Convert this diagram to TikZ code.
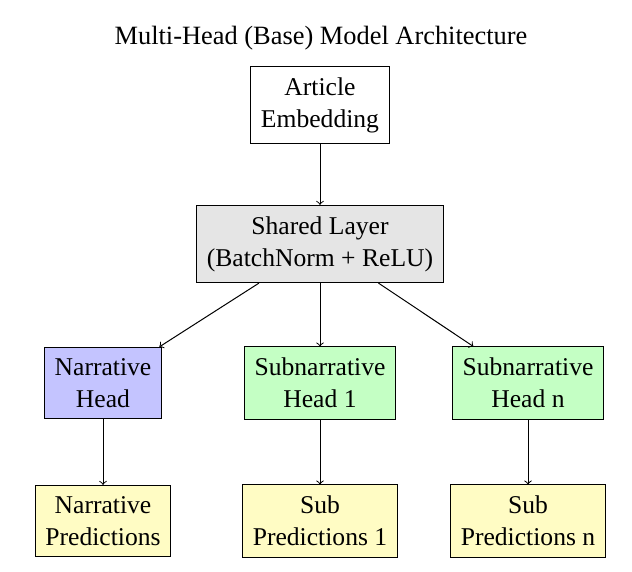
\documentclass[tikz,border=0pt]{standalone}
\usepackage{fontspec}
\setmainfont{Liberation Serif}
\usetikzlibrary{positioning}

\tikzset{
  block/.style={draw, rectangle, align=center, inner xsep=5pt, inner ysep=5.5pt,
    font=\fontsize{12.8}{16}\selectfont},
}

\begin{document}
\begin{tikzpicture}[x=0.5pt, y=-0.5pt, line width=0.5pt]
	\useasboundingbox (0,0) rectangle (632,572);

	\node[font=\fontsize{13.2}{16}\selectfont] (title) at ( 321, 38 ) { Multi-Head (Base) Model Architecture };

	\node[block] (article) at ( 320, 105 ) { Article\\Embedding };
	\node[block, fill=gray!20] (shared) at ( 320, 244 ) { Shared Layer\\(BatchNorm + ReLU) };

	\node[block, fill=blue!23] (narr) at ( 103, 383 ) { Narrative\\Head };
	\node[block, fill=green!23] (sub1) at ( 320, 383 ) { Subnarrative\\Head 1 };
	\node[block, fill=green!23] (subn) at ( 528, 383 ) { Subnarrative\\Head n };

	\node[block, fill=yellow!23] (narrpred) at ( 103, 521 ) { Narrative\\Predictions };
	\node[block, fill=yellow!23] (sub1pred) at ( 320, 521 ) { Sub\\Predictions 1 };
	\node[block, fill=yellow!23] (subnpred) at ( 528, 521 ) { Sub\\Predictions n };

	\draw[->](article) -- (shared);
	\draw[->](shared) -- (narr);
	\draw[->](shared) -- (sub1);
	\draw[->](shared) -- (subn);
	\draw[->](narr) -- (narrpred);
	\draw[->](sub1) -- (sub1pred);
	\draw[->](subn) -- (subnpred);
\end{tikzpicture}
\end{document}
